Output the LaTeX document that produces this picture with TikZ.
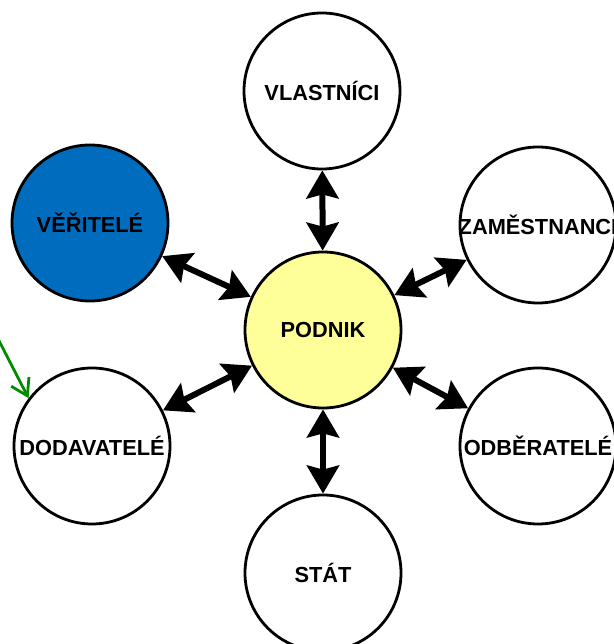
\documentclass[tikz,border=0pt]{standalone}
\usepackage{fontspec}
\setmainfont{Liberation Sans}
\usetikzlibrary{arrows.meta}
\definecolor{veritelblue}{RGB}{0,108,190}
\definecolor{podnikyellow}{RGB}{255,255,153}
\definecolor{notegreen}{RGB}{0,140,0}

\begin{document}
\begin{tikzpicture}[>={Stealth[length=0.7cm, width=0.8cm, inset=0.1cm]},
        party/.style={draw, circle, fill=white, line width=0.07cm, minimum size=3.9cm, inner sep=0pt,
            label={[font=\bfseries\fontsize{15.5}{18}\selectfont, inner sep=0pt]center:#1}},
        link/.style={<->, line width=0.15cm}]
                \useasboundingbox (0, 0) rectangle (15.35, 16.1);
                \clip (0, 0) rectangle (15.35, 16.1);
                \node[party=PODNIK, fill=podnikyellow] (podnik) at (8.075, 7.85) {};
                \node[party=VLASTNÍCI] (vlastnici) at (8.05, 13.825) {};
                \node[party=VĚŘITELÉ, fill=veritelblue] (veritele) at (2.25, 10.525) {};
                \node[party=ZAMĚSTNANCI] (zamestnanci) at (13.45, 10.475) {};
                \node[party=DODAVATELÉ] (dodavatele) at (2.3, 4.95) {};
                \node[party=ODBĚRATELÉ] (odberatele) at (13.45, 4.95) {};
                \node[party=STÁT] (stat) at (8.075, 1.775) {};
                \draw[link] (vlastnici) -- (podnik);
                \draw[link] (veritele) -- (podnik);
                \draw[link] (zamestnanci) -- (podnik);
                \draw[link] (dodavatele) -- (podnik);
                \draw[link] (odberatele) -- (podnik);
                \draw[link] (stat) -- (podnik);
                \coordinate (note) at (-0.125, 7.775);
                \draw[-{Straight Barb[length=0.4cm, width=0.5cm]}, notegreen, line width=0.07cm] (note) -- (dodavatele.143);
            \end{tikzpicture}
\end{document}
